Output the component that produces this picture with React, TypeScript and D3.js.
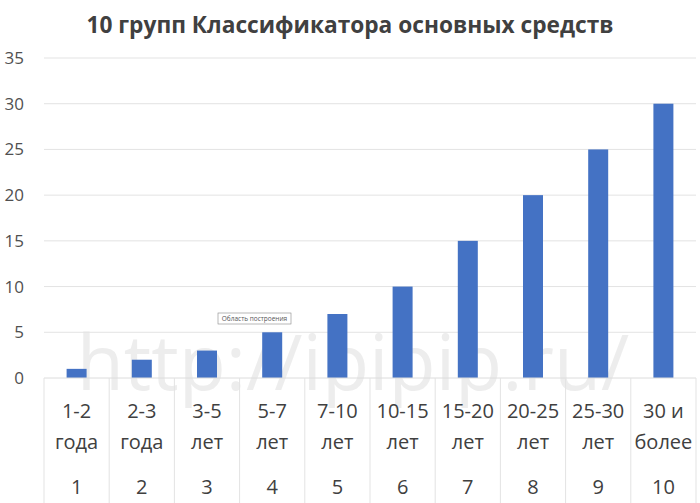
import * as d3 from 'd3';
import { useEffect, useRef } from "react";

const categories = ['1', '2', '3', '4', '5', '6', '7', '8', '9', '10'];
const rangeTop = ['1-2', '2-3', '3-5', '5-7', '7-10', '10-15', '15-20', '20-25', '25-30', '30 и'];
const rangeBottom = ['года', 'года', 'лет', 'лет', 'лет', 'лет', 'лет', 'лет', 'лет', 'более'];
const values = [1, 2, 3, 5, 7, 10, 15, 20, 25, 30];
const yTicks = [0, 5, 10, 15, 20, 25, 30, 35];

const WIDTH = 700;
const HEIGHT = 503;
const LEFT = 44;
const RIGHT = 696;
const TOP = 58;
const BOTTOM = 378;
const FONT = '"Open Sans", "Noto Sans", sans-serif';

export default function App() {
    const ref = useRef(null);
    useEffect(() => {
        document.body.style.margin = '0';
        if (!ref.current) return;
        const svg = d3.select(ref.current);
        svg.selectAll("*").remove();

        const x = d3.scaleBand<string>().domain(categories).range([LEFT, RIGHT]).paddingInner(0).paddingOuter(0);
        const y = d3.scaleLinear().domain([0, 35]).range([BOTTOM, TOP]);

        svg.append('rect').attr('width', WIDTH).attr('height', HEIGHT).attr('fill', 'white');

        // watermark (faint, behind everything)
        svg.append('text')
            .attr('x', 353).attr('y', 390)
            .attr('text-anchor', 'middle')
            .attr('font-family', FONT)
            .attr('font-size', 77)
            .attr('fill', '#ededed')
            .text('http://ipipip.ru/');

        // gridlines
        svg.selectAll('.grid')
            .data(yTicks.filter(t => t > 0))
            .enter()
            .append('line')
            .attr('x1', LEFT).attr('x2', RIGHT)
            .attr('y1', d => y(d)).attr('y2', d => y(d))
            .attr('stroke', '#e3e3e3').attr('stroke-width', 1);

        // y labels
        svg.selectAll('.ylab')
            .data(yTicks)
            .enter()
            .append('text')
            .attr('x', 24).attr('y', d => y(d))
            .attr('dy', '0.35em')
            .attr('text-anchor', 'end')
            .attr('font-family', FONT)
            .attr('font-size', 17)
            .attr('fill', '#505050')
            .text(d => d);

        // bars
        const barW = 20;
        svg.selectAll('.bar')
            .data(values)
            .enter()
            .append('rect')
            .attr('x', (d, i) => x(categories[i])! + x.bandwidth() / 2 - barW / 2)
            .attr('y', d => y(d))
            .attr('width', barW)
            .attr('height', d => y(0) - y(d))
            .attr('fill', '#4472C4');

        // axis baseline
        svg.append('line')
            .attr('x1', LEFT).attr('x2', RIGHT)
            .attr('y1', BOTTOM).attr('y2', BOTTOM)
            .attr('stroke', '#dcdcdc');

        // category separators
        const seps = categories.map(c => x(c)!).concat([RIGHT]);
        svg.selectAll('.sep')
            .data(seps)
            .enter()
            .append('line')
            .attr('x1', d => d).attr('x2', d => d)
            .attr('y1', BOTTOM).attr('y2', HEIGHT)
            .attr('stroke', '#e3e3e3');

        const labelRow = (arr: string[], yy: number) => {
            svg.append('g').selectAll('text')
                .data(arr)
                .enter()
                .append('text')
                .attr('x', (d, i) => x(categories[i])! + x.bandwidth() / 2)
                .attr('y', yy)
                .attr('text-anchor', 'middle')
                .attr('font-family', FONT)
                .attr('font-size', 20)
                .attr('fill', '#404040')
                .text(d => d);
        };
        labelRow(rangeTop, 418);
        labelRow(rangeBottom, 449);
        labelRow(categories, 494);

        // tooltip artifact
        const tip = svg.append('g').attr('transform', 'translate(218,313)');
        tip.append('rect').attr('width', 73).attr('height', 11)
            .attr('fill', 'white').attr('stroke', '#888').attr('stroke-width', 0.6);
        tip.append('text').attr('x', 36.5).attr('y', 8)
            .attr('text-anchor', 'middle')
            .attr('font-family', FONT).attr('font-size', 6.5)
            .attr('fill', '#555')
            .text('Область построения');

        // title
        svg.append('text')
            .attr('x', 350).attr('y', 33)
            .attr('text-anchor', 'middle')
            .attr('font-family', FONT)
            .attr('font-size', 22.7)
            .attr('font-weight', 'bold')
            .attr('fill', '#404040')
            .text('10 групп Классификатора основных средств');
    }, []);

    return <svg ref={ref} width={WIDTH} height={HEIGHT} style={{ display: 'block' }}></svg>;
}
